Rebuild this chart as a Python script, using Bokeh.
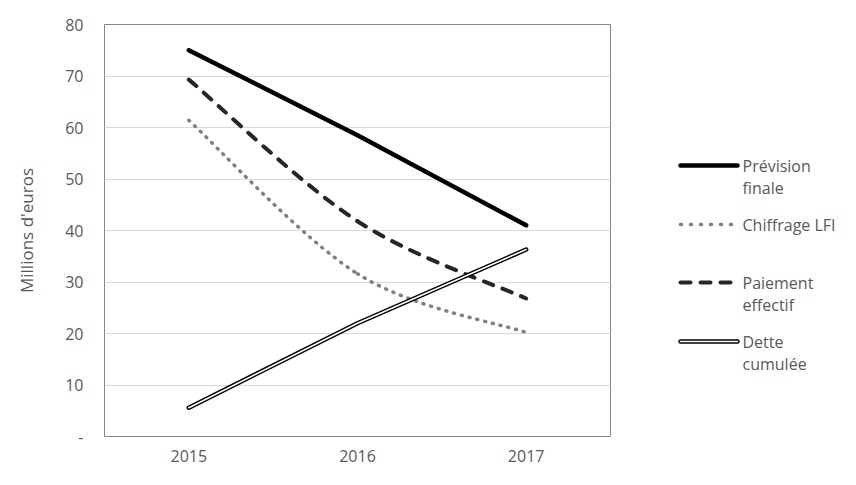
from bokeh.plotting import figure
from bokeh.models import Range1d, FixedTicker, ColumnDataSource
from bokeh.layouts import row
from bokeh.core.properties import value
from bokeh.embed import file_html
from bokeh.resources import INLINE

# ---- data ----
years = ["2015", "2016", "2017"]
prevision_finale = [75.0, 58.5, 41.0]
chiffrage_lfi = [61.4, 31.6, 20.2]
paiement_effectif = [69.3, 41.8, 26.8]
dette_cumulee = [5.6, 22.0, 36.3]
y_ticks = [0, 10, 20, 30, 40, 50, 60, 70, 80]

FONT = "Open Sans"
TXT = "#595959"
xs = [i + 1 for i in range(len(years))]


def smooth_segments(x, y):
    """Excel-like smoothing: Bezier control points from neighbouring points."""
    n = len(x)
    seg = dict(x0=[], y0=[], x1=[], y1=[], cx0=[], cy0=[], cx1=[], cy1=[])
    for i in range(n - 1):
        a = max(i - 1, 0)
        b = min(i + 2, n - 1)
        seg["x0"].append(x[i]); seg["y0"].append(y[i])
        seg["x1"].append(x[i + 1]); seg["y1"].append(y[i + 1])
        seg["cx0"].append(x[i] + (x[i + 1] - x[a]) / 6)
        seg["cy0"].append(y[i] + (y[i + 1] - y[a]) / 6)
        seg["cx1"].append(x[i + 1] - (x[b] - x[i]) / 6)
        seg["cy1"].append(y[i + 1] - (y[b] - y[i]) / 6)
    return ColumnDataSource(seg)


p = figure(width=612, height=469, output_backend="svg", toolbar_location=None,
           x_range=Range1d(0.5, 3.5), y_range=Range1d(0, 80),
           min_border_left=104, min_border_right=2, min_border_top=24, min_border_bottom=33)
p.outline_line_color = "#868686"
p.outline_line_width = 1
p.background_fill_color = "white"
p.border_fill_color = "white"

p.xgrid.visible = False
p.ygrid.grid_line_color = "#d9d9d9"
p.ygrid.grid_line_width = 1

p.xaxis.ticker = FixedTicker(ticks=xs)
p.xaxis.major_label_overrides = {x: y for x, y in zip(xs, years)}
p.yaxis.ticker = FixedTicker(ticks=y_ticks)
p.yaxis.major_label_overrides = {0: "-"}
for ax in (p.xaxis[0], p.yaxis[0]):
    ax.axis_line_color = None
    ax.major_tick_line_color = None
    ax.minor_tick_line_color = None
    ax.major_label_text_font = FONT
    ax.major_label_text_font_size = "16px"
    ax.major_label_text_color = TXT
p.yaxis.major_label_standoff = 15
p.xaxis.major_label_standoff = 7
p.yaxis.axis_label = "Millions d'euros"
p.yaxis.axis_label_text_font = FONT
p.yaxis.axis_label_text_font_size = "17px"
p.yaxis.axis_label_text_font_style = "normal"
p.yaxis.axis_label_text_color = TXT
p.yaxis.axis_label_standoff = 24

# Prévision finale
p.line(xs, prevision_finale, line_color="black", line_width=4.5, line_cap="round", line_join="round")
# Chiffrage LFI (smoothed, dotted)
p.bezier(x0="x0", y0="y0", x1="x1", y1="y1", cx0="cx0", cy0="cy0", cx1="cx1", cy1="cy1",
         source=smooth_segments(xs, chiffrage_lfi), line_color="#808080", line_width=3.5,
         line_dash="1 7", line_cap="round")
# Paiement effectif (smoothed, dashed)
p.bezier(x0="x0", y0="y0", x1="x1", y1="y1", cx0="cx0", cy0="cy0", cx1="cx1", cy1="cy1",
         source=smooth_segments(xs, paiement_effectif), line_color="#262626", line_width=4,
         line_dash="10 10", line_cap="round")
# Dette cumulée (double line)
p.line(xs, dette_cumulee, line_color="black", line_width=4.5, line_cap="round", line_join="round")
p.line(xs, dette_cumulee, line_color="white", line_width=1.6, line_cap="round", line_join="round")

# ---- legend panel (its frame is aligned with the main frame: y 24..436) ----
lg = figure(width=228, height=469, output_backend="svg", toolbar_location=None,
            x_range=Range1d(0, 228), y_range=Range1d(436, 24),
            min_border_left=0, min_border_right=0, min_border_top=24, min_border_bottom=33)
lg.axis.visible = False
lg.grid.visible = False
lg.outline_line_color = None
lg.border_fill_color = "white"

leg_labels = [["Prévision", "finale"], ["Chiffrage LFI"], ["Paiement", "effectif"], ["Dette", "cumulée"]]
leg_y = [165, 224, 282, 341]
lx0, lx1, tx = 68, 125, 130

styles = [
    [dict(line_color="black", line_width=4.5, line_cap="round")],
    [dict(line_color="#808080", line_width=3.5, line_dash="1 9", line_cap="round")],
    [dict(line_color="#262626", line_width=4, line_dash="10 10", line_cap="round")],
    [dict(line_color="black", line_width=4.5, line_cap="round"),
     dict(line_color="white", line_width=1.6, line_cap="round")],
]
for lab, yy, st in zip(leg_labels, leg_y, styles):
    for s in st:
        lg.line([lx0, lx1], [yy, yy], **s)
    lg.text(x=[tx] * len(lab), y=[yy + 22 * k for k in range(len(lab))], text=lab,
            text_font=value(FONT), text_font_size=value("16px"), text_color=TXT,
            text_baseline="middle", text_align="left")

layout = row(p, lg, spacing=0)
open("out.html", "w").write(file_html(layout, INLINE))
